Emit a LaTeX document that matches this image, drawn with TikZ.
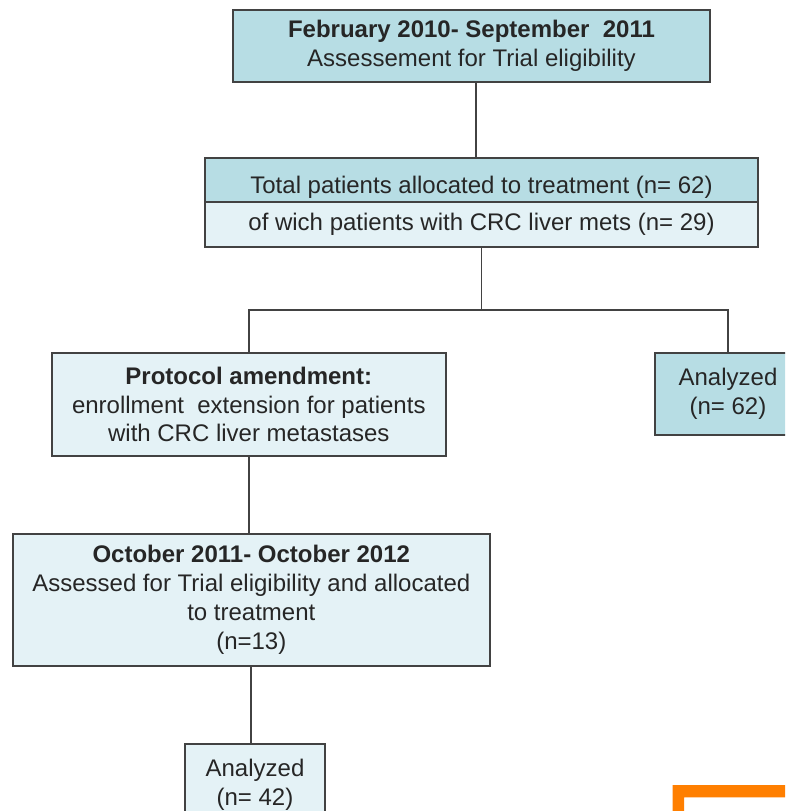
\documentclass[tikz,border=0pt]{standalone}
\usepackage{xcolor,tikz,fontspec}
\usetikzlibrary{calc,positioning}
\setmainfont{Liberation Sans}
\definecolor{deep}{RGB}{183,221,228}
\definecolor{pale}{RGB}{228,242,246}
\definecolor{rim}{RGB}{66,66,66}
\definecolor{ink}{RGB}{38,38,38}
\definecolor{flag}{RGB}{255,127,0}

\begin{document}
\begin{tikzpicture}[x=1pt,y=-1pt,
 item/.style={draw=rim,line width=1.8pt,inner sep=0pt,align=center,text=ink,
  font=\fontsize{24}{28.7}\selectfont},
 link/.style={draw=rim,line width=1.9pt}]
\clip (0,0) rectangle (785,811);
\fill[white] (0,0) rectangle (785,811);
\node[item,fill=deep,minimum width=477,minimum height=72] (elig) at (471.5,46)
 {\textbf{February 2010- September \ 2011}\\Assessement for Trial eligibility};
\node[item,fill=deep,minimum width=553,minimum height=44] (total) at (481.5,180)
 {\raisebox{-7pt}[\height][\depth]{Total patients allocated to treatment (n= 62)}};
\node[item,fill=pale,minimum width=553,minimum height=45] (crc) at (481.5,224.5)
 {of wich patients with CRC liver mets (n= 29)};
\node[item,fill=pale,minimum width=394,minimum height=103] (amend) at (248.8,404.5)
 {\textbf{Protocol amendment:}\\enrollment \ extension for patients\\with CRC liver metastases};
\node[item,fill=deep,minimum width=146,minimum height=82] (anaone) at (728,394)
 {Analyzed\\(n= 62)};
\node[item,fill=pale,minimum width=477,minimum height=132] (second) at (251.3,599.8)
 {\textbf{October 2011- October 2012}\\Assessed for Trial eligibility and allocated\\to treatment\\(n=13)};
\node[item,fill=pale,minimum width=140,minimum height=82] (anatwo) at (255,785)
 {Analyzed\\(n= 42)};
\coordinate (split) at ($(crc.south)+(0,62)$);
\draw[link] ($(elig.south)+(4.5,0)$) -- ($(elig.south |- total.north)+(4.5,0)$);
\draw[link] (crc.south) -- (split);
\draw[link] (amend.north) |- (split) -| (anaone.north);
\draw[link] (amend.south) -- (amend.south |- second.north);
\draw[link] (second.south) -- (second.south |- anatwo.north);
% orange corner, bottom right
\fill[flag] (672.7,811) -- (672.7,785) -- (785,785) -- (785,797.3) -- (684,797.3) -- (684,811) -- cycle;
\end{tikzpicture}
\end{document}
